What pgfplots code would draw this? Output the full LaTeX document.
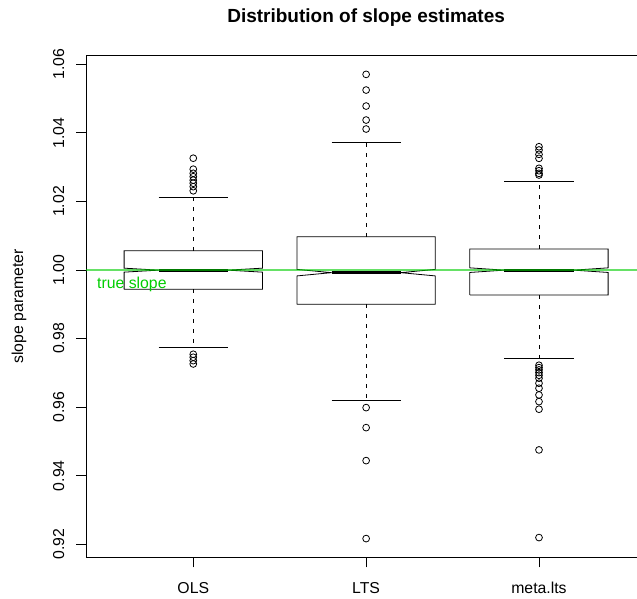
\documentclass[border=0pt]{standalone}
\usepackage{pgfplots}
\pgfplotsset{compat=1.18}
\usepackage{graphicx}
\usepackage{fontspec}
\setmainfont{Liberation Sans}
\definecolor{truegreen}{RGB}{0,205,0}

\begin{document}
\fontsize{15.8}{19}\selectfont
\begin{tikzpicture}
\begin{axis}[
  at={(0,0)}, anchor=south west,
  scale only axis, width=550.9pt, height=501.6pt,
  xmin=0.38, xmax=3.567, ymin=0.9162, ymax=1.0625,
  axis x line*=box, axis y line*=left,
  axis line style={black, line width=0.8pt},
  tick align=outside, major tick length=10pt,
  tick style={black, line width=0.8pt},
  xtick pos=bottom, ytick pos=left,
  xtick={1,2,3}, xticklabels={OLS,LTS,meta.lts},
  ytick={0.92,0.94,0.96,0.98,1.00,1.02,1.04,1.06},
  yticklabel={\rotatebox{90}{\pgfmathprintnumber[fixed,fixed zerofill,precision=2,assume math mode=true]{\tick}}},
  yticklabel style={anchor=east, inner sep=0pt, xshift=-11.6pt},
  xticklabel style={anchor=base, inner sep=0pt, yshift=-26pt},
  ylabel={slope parameter},
  every axis y label/.style={at={(axis description cs:-0.1145,0.5)}, rotate=90, anchor=base},
  title={\bfseries Distribution of slope estimates},
  every axis title/.style={at={(axis description cs:0.5083,1.0658)}, anchor=base, font=\fontsize{19}{23}\selectfont},
  every axis plot/.append style={line width=0.8pt},
]
% notched boxes: (c-w,q1) (c-w,med-n) (c-w/2,med) (c-w,med+n) (c-w,q3) ...
\addplot[black] coordinates {(0.6,0.99437) (0.6,0.99937) (0.8,0.99995) (0.6,1.00053) (0.6,1.00563) (1.4,1.00563) (1.4,1.00053) (1.2,0.99995) (1.4,0.99937) (1.4,0.99437) (0.6,0.99437)};
\addplot[black] coordinates {(1.6,0.99000) (1.6,0.99827) (1.8,0.99922) (1.6,1.00017) (1.6,1.00971) (2.4,1.00971) (2.4,1.00017) (2.2,0.99922) (2.4,0.99827) (2.4,0.99000) (1.6,0.99000)};
\addplot[black] coordinates {(2.6,0.99271) (2.6,0.99928) (2.8,0.99995) (2.6,1.00062) (2.6,1.00612) (3.4,1.00612) (3.4,1.00062) (3.2,0.99995) (3.4,0.99928) (3.4,0.99271) (2.6,0.99271)};
% medians
\addplot[black, line width=3pt] coordinates {(0.8,0.99995) (1.2,0.99995)};
\addplot[black, line width=3pt] coordinates {(1.8,0.99922) (2.2,0.99922)};
\addplot[black, line width=3pt] coordinates {(2.8,0.99995) (3.2,0.99995)};
% whiskers
\addplot[black, dash pattern=on 4pt off 6pt] coordinates {(1,1.00563) (1,1.0212)};
\addplot[black, dash pattern=on 4pt off 6pt] coordinates {(1,0.99437) (1,0.97746)};
\addplot[black, dash pattern=on 4pt off 6pt] coordinates {(2,1.00971) (2,1.03723)};
\addplot[black, dash pattern=on 4pt off 6pt] coordinates {(2,0.99000) (2,0.96210)};
\addplot[black, dash pattern=on 4pt off 6pt] coordinates {(3,1.00612) (3,1.02595)};
\addplot[black, dash pattern=on 4pt off 6pt] coordinates {(3,0.99271) (3,0.97434)};
% staples
\addplot[black] coordinates {(0.8,1.0212) (1.2,1.0212)};
\addplot[black] coordinates {(0.8,0.97746) (1.2,0.97746)};
\addplot[black] coordinates {(1.8,1.03723) (2.2,1.03723)};
\addplot[black] coordinates {(1.8,0.96210) (2.2,0.96210)};
\addplot[black] coordinates {(2.8,1.02595) (3.2,1.02595)};
\addplot[black] coordinates {(2.8,0.97434) (3.2,0.97434)};
% outliers
\addplot[only marks, mark=o, mark size=3.4pt, mark options={line width=0.8pt}] coordinates {
  (1,1.0326) (1,1.0294) (1,1.0282) (1,1.0272) (1,1.0262) (1,1.0253) (1,1.0243) (1,1.0231)
  (1,0.97542) (1,0.97455) (1,0.97356) (1,0.97259)};
\addplot[only marks, mark=o, mark size=3.4pt, mark options={line width=0.8pt}] coordinates {
  (2,1.05705) (2,1.05248) (2,1.04781) (2,1.04373) (2,1.04111)
  (2,0.95986) (2,0.95402) (2,0.94440) (2,0.92166)};
\addplot[only marks, mark=o, mark size=3.4pt, mark options={line width=0.8pt}] coordinates {
  (3,1.03595) (3,1.03499) (3,1.03373) (3,1.03256) (3,1.02965) (3,1.02895) (3,1.02818) (3,1.02770)
  (3,0.97221) (3,0.97152) (3,0.97085) (3,0.97006) (3,0.96930) (3,0.96843) (3,0.96697)
  (3,0.96551) (3,0.96356) (3,0.96161) (3,0.95939) (3,0.94752) (3,0.92195)};
% true slope reference
\addplot[truegreen, line width=1.3pt, opacity=0.6] coordinates {(0.38,1) (3.567,1)};
\node[anchor=base west, inner sep=0pt, text=truegreen] at (axis cs:0.443,0.99446) {true slope};
\end{axis}
\pgfresetboundingbox
\path[use as bounding box] (-86.1pt,-41.7pt) rectangle (550.9pt,557.3pt);
\end{tikzpicture}
\end{document}
